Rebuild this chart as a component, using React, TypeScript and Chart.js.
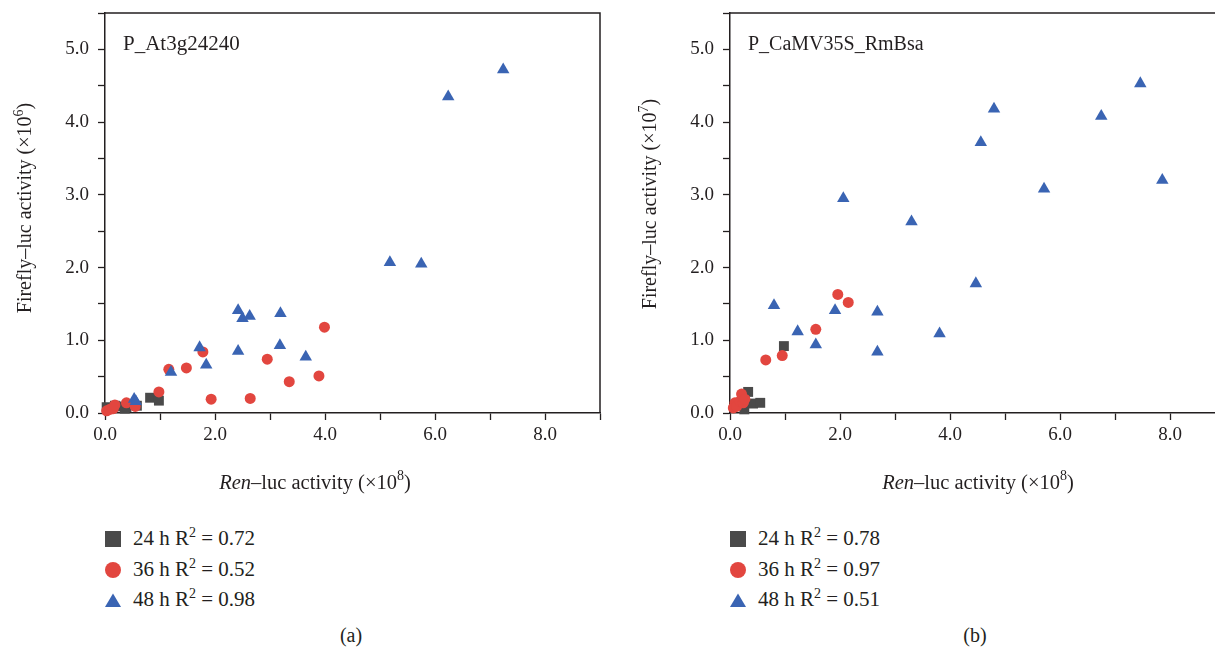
import React, { useEffect, useRef } from "react";
import { Chart, registerables } from "chart.js";
Chart.register(...registerables);

const FONT = '"Liberation Serif", "Times New Roman", serif';
const INK = "#231f20";
const GRAY = "#4a4a4a";
const RED = "#e2463f";
const BLUE = "#3a64b3";

// x ticks / y ticks
const xTickValues = [0, 2, 4, 6, 8];
const yTickValues = [0, 1, 2, 3, 4, 5];

// Panel (a): P_At3g24240
const a24x = [0.03, 0.18, 0.21, 0.36, 0.39, 0.58, 0.82, 0.98];
const a24y = [0.08, 0.1, 0.09, 0.06, 0.08, 0.1, 0.21, 0.17];
const a36x = [0.03, 0.09, 0.15, 0.18, 0.39, 0.55, 0.98, 1.16, 1.48, 1.78, 1.93, 2.64, 2.95, 3.35, 3.89, 3.99];
const a36y = [0.03, 0.05, 0.06, 0.11, 0.14, 0.09, 0.29, 0.6, 0.62, 0.84, 0.19, 0.2, 0.74, 0.43, 0.51, 1.18];
const a48x = [0.53, 0.56, 1.2, 1.72, 1.84, 2.42, 2.42, 2.5, 2.63, 3.18, 3.19, 3.65, 5.18, 5.75, 6.24, 7.24];
const a48y = [0.19, 0.16, 0.56, 0.9, 0.66, 1.41, 0.85, 1.3, 1.33, 0.93, 1.37, 0.77, 2.07, 2.05, 4.35, 4.72];

// Panel (b): P_CaMV35S_RmBsa
const b24x = [0.26, 0.33, 0.42, 0.55, 0.98];
const b24y = [0.05, 0.29, 0.13, 0.14, 0.92];
const b36x = [0.06, 0.09, 0.12, 0.18, 0.21, 0.24, 0.27, 0.65, 0.95, 1.56, 1.96, 2.15];
const b36y = [0.07, 0.14, 0.09, 0.16, 0.26, 0.14, 0.19, 0.73, 0.79, 1.15, 1.63, 1.52];
const b48x = [0.8, 1.23, 1.56, 1.91, 2.06, 2.68, 2.68, 3.3, 3.81, 4.47, 4.56, 4.8, 5.71, 6.75, 7.46, 7.86];
const b48y = [1.48, 1.12, 0.94, 1.41, 2.95, 1.39, 0.84, 2.63, 1.09, 1.78, 3.72, 4.18, 3.08, 4.08, 4.53, 3.2];

const seriesNames = ["24 h", "36 h", "48 h"];
const r2A = ["0.72", "0.52", "0.98"];
const r2B = ["0.78", "0.97", "0.51"];

type Run = { t: string; italic?: boolean; sup?: boolean };

function drawRuns(ctx: CanvasRenderingContext2D, runs: Run[], x: number, y: number, size: number, align: "center" | "left") {
  const fontFor = (r: Run) => `${r.italic ? "italic " : ""}${r.sup ? Math.round(size * 0.68) : size}px ${FONT}`;
  const widths = runs.map((r) => {
    ctx.font = fontFor(r);
    return ctx.measureText(r.t).width;
  });
  const total = widths.reduce((a, b) => a + b, 0);
  let cx = align === "center" ? x - total / 2 : x;
  ctx.textAlign = "left";
  ctx.textBaseline = "alphabetic";
  runs.forEach((r, i) => {
    ctx.font = fontFor(r);
    ctx.fillText(r.t, cx, r.sup ? y - size * 0.42 : y);
    cx += widths[i];
  });
}

type PanelCfg = {
  label: string;
  exp: string;
  xs: number[][];
  ys: number[][];
  xTitleCenter: number;
  yTitleCenter: number;
  labelSize: number;
};

function makePlugin(cfg: PanelCfg) {
  return {
    id: "panelDecor",
    afterDraw(chart: any) {
      const ctx: CanvasRenderingContext2D = chart.ctx;
      const a = chart.chartArea;
      ctx.save();
      ctx.strokeStyle = INK;
      ctx.lineWidth = 1.5;
      ctx.beginPath();
      ctx.moveTo(a.left, a.top);
      ctx.lineTo(a.right, a.top);
      ctx.lineTo(a.right, a.bottom);
      ctx.stroke();
      ctx.fillStyle = INK;
      // panel label
      ctx.font = `${cfg.labelSize}px ${FONT}`;
      ctx.textAlign = "left";
      ctx.textBaseline = "alphabetic";
      ctx.fillText(cfg.label, 123, 50);
      // x title
      drawRuns(ctx, [{ t: "Ren", italic: true }, { t: "\u2013luc activity (\u00d710" }, { t: "8", sup: true }, { t: ")" }], cfg.xTitleCenter, 489, 20.5, "center");
      // y title
      ctx.translate(31, cfg.yTitleCenter);
      ctx.rotate(-Math.PI / 2);
      drawRuns(ctx, [{ t: "Firefly\u2013luc activity (\u00d710" }, { t: cfg.exp, sup: true }, { t: ")" }], 0, 0, 20, "center");
      ctx.restore();
    },
  };
}

function zip(x: number[], y: number[]) {
  return x.map((v, i) => ({ x: v, y: y[i] }));
}

function ScatterPanel({ cfg }: { cfg: PanelCfg }) {
  const ref = useRef<HTMLCanvasElement>(null);
  useEffect(() => {
    const styles = [
      { style: "rect", r: 7, color: GRAY, order: 3 },
      { style: "circle", r: 5.5, color: RED, order: 2 },
      { style: "triangle", r: 7.2, color: BLUE, order: 1 },
    ];
    const datasets = styles.map((s, i) => ({
      label: seriesNames[i],
      data: zip(cfg.xs[i], cfg.ys[i]),
      pointStyle: s.style,
      pointRadius: s.r,
      pointHoverRadius: s.r,
      pointBackgroundColor: s.color,
      pointBorderColor: s.color,
      pointBorderWidth: 0,
      backgroundColor: s.color,
      borderColor: s.color,
      order: s.order,
      clip: false as any,
    }));
    const tickFont = { family: FONT, size: 19 };
    const chart = new Chart(ref.current!, {
      type: "scatter",
      data: { datasets } as any,
      options: {
        responsive: false,
        animation: false,
        devicePixelRatio: 1,
        layout: { padding: { left: 0, right: 10, top: 13, bottom: 10 } },
        plugins: { legend: { display: false }, tooltip: { enabled: false } },
        scales: {
          x: {
            type: "linear",
            min: 0,
            max: 9,
            afterFit: (s: any) => {
              s.height = 87;
              s.paddingLeft = 0;
              s.paddingRight = 0;
              s.paddingTop = 0;
              s.paddingBottom = 0;
            },
            ticks: {
              stepSize: 1,
              autoSkip: false,
              maxRotation: 0,
              color: INK,
              font: tickFont,
              padding: 4,
              callback: (v: any) => (xTickValues.includes(Number(v)) ? Number(v).toFixed(1) : ""),
            },
            grid: { drawOnChartArea: false, drawTicks: true, tickLength: 7, tickColor: INK, tickWidth: 1.3 },
            border: { display: true, color: INK, width: 1.5 },
          },
          y: {
            type: "linear",
            min: 0,
            max: 5.5,
            afterFit: (s: any) => {
              s.width = 105;
              s.paddingLeft = 0;
              s.paddingRight = 0;
              s.paddingTop = 0;
              s.paddingBottom = 0;
            },
            ticks: {
              stepSize: 0.5,
              autoSkip: false,
              color: INK,
              font: tickFont,
              padding: 9,
              callback: (v: any) => (yTickValues.includes(Number(v)) ? Number(v).toFixed(1) : ""),
            },
            grid: { drawOnChartArea: false, drawTicks: true, tickLength: 7, tickColor: INK, tickWidth: 1.3 },
            border: { display: true, color: INK, width: 1.5 },
          },
        },
      } as any,
      plugins: [makePlugin(cfg)],
    });
    return () => chart.destroy();
  }, []);
  return <canvas ref={ref} width={610} height={510} style={{ display: "block" }} />;
}

function Marker({ kind }: { kind: number }) {
  return (
    <svg width={18} height={18} style={{ position: "absolute", left: -9, top: -9 }}>
      {kind === 0 && <rect x={1} y={1} width={16} height={16} fill={GRAY} />}
      {kind === 1 && <circle cx={9} cy={9} r={8} fill={RED} />}
      {kind === 2 && <polygon points="1,16 9,2.5 17,16" fill={BLUE} />}
    </svg>
  );
}

function Legend({ left, r2 }: { left: number; r2: string[] }) {
  const rows = [539, 570, 600];
  return (
    <>
      {rows.map((y, i) => (
        <div key={i} style={{ position: "absolute", left, top: y }}>
          <Marker kind={i} />
          <div
            style={{
              position: "absolute",
              left: 20,
              top: -14,
              whiteSpace: "nowrap",
              font: `21px ${FONT}`,
              color: INK,
              lineHeight: "27px",
            }}
          >
            {seriesNames[i]} R<sup style={{ fontSize: "14px", lineHeight: 0, verticalAlign: "8px" }}>2</sup> = {r2[i]}
          </div>
        </div>
      ))}
    </>
  );
}

export default function App() {
  const cfgA: PanelCfg = {
    label: "P_At3g24240",
    exp: "6",
    xs: [a24x, a36x, a48x],
    ys: [a24y, a36y, a48y],
    xTitleCenter: 315,
    yTitleCenter: 208,
    labelSize: 21,
  };
  const cfgB: PanelCfg = {
    label: "P_CaMV35S_RmBsa",
    exp: "7",
    xs: [b24x, b36x, b48x],
    ys: [b24y, b36y, b48y],
    xTitleCenter: 353,
    yTitleCenter: 204,
    labelSize: 20,
  };
  const caption = { position: "absolute" as const, top: 624, font: `20px ${FONT}`, color: INK, width: 40, textAlign: "center" as const };
  return (
    <div style={{ position: "absolute", left: 0, top: 0, width: 1215, height: 652, overflow: "hidden", background: "#fff" }}>
      <div style={{ position: "absolute", left: 0, top: 0 }}>
        <ScatterPanel cfg={cfgA} />
      </div>
      <div style={{ position: "absolute", left: 625, top: 0, width: 590, height: 520, overflow: "hidden" }}>
        <ScatterPanel cfg={cfgB} />
      </div>
      <Legend left={113} r2={r2A} />
      <Legend left={738} r2={r2B} />
      <div style={{ ...caption, left: 331 }}>(a)</div>
      <div style={{ ...caption, left: 955 }}>(b)</div>
    </div>
  );
}
